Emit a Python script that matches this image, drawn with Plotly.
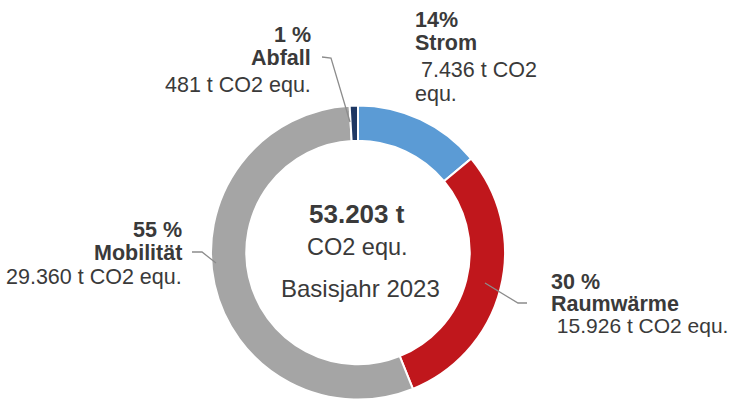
import plotly.graph_objects as go

# ---- data ----
categories = ["Strom", "Raumwärme", "Mobilität", "Abfall"]
values = [7436, 15926, 29360, 481]
pct_labels = ["14%", "30 %", "55 %", "1 %"]
value_lines = [["\u00a07.436 t CO2", "equ."], ["\u00a015.926 t CO2 equ."],
               ["29.360 t CO2 equ."], ["481 t CO2 equ."]]
colors = ["#5B9BD5", "#C0171C", "#A5A5A5", "#1F3864"]
total_label = "53.203 t"
unit_label = "CO2 equ."
year_label = "Basisjahr 2023"

W, H = 730, 403
FONT = "Liberation Sans, Arial, sans-serif"
TXT = "#3a3a3a"


def px(x):
    return x / W


def py(y):
    return 1 - y / H


fig = go.Figure(go.Pie(
    labels=categories,
    values=values,
    sort=False,
    direction="clockwise",
    rotation=0,
    hole=0.76,
    marker=dict(colors=colors, line=dict(color="white", width=2)),
    textinfo="none",
    hoverinfo="label+value+percent",
    showlegend=False,
    domain=dict(x=[px(211), px(505)], y=[py(400), py(105)]),
))

annotations = []


def add(text, x, y, size, anchor="center"):
    annotations.append(dict(text=text, x=px(x), y=py(y), xref="paper", yref="paper",
                            xanchor=anchor, yanchor="middle", showarrow=False,
                            font=dict(size=size, color=TXT, family=FONT)))


# center text
add("<b>" + total_label + "</b>", 357, 214, 26)
add(unit_label, 357, 246.5, 23.5)
add(year_label, 360, 288.5, 24)

# slice labels: x edge, anchor, y centers of lines
label_layout = {
    "Strom": (413, "left", [20, 43.5, 69.5, 94]),
    "Raumwärme": (549, "left", [281.5, 304, 325.5]),
    "Mobilität": (184, "right", [229.5, 252.5, 277]),
    "Abfall": (313, "right", [35, 58, 85]),
}
for i, cat in enumerate(categories):
    x, anchor, ys = label_layout[cat]
    lines = ["<b>" + pct_labels[i] + "</b>", "<b>" + cat + "</b>"] + value_lines[i]
    for j, (ln, y) in enumerate(zip(lines, ys)):
        size = 21.5
        if cat == "Raumwärme" and j == 2:
            size = 21
        add(ln, x, y, size, anchor)

# leader lines
leaders = [
    [(322, 57), (331, 58), (350, 122)],   # Abfall
    [(192, 252), (202, 252), (216, 263)],  # Mobilität
    [(485, 283), (518, 303), (527, 303)],  # Raumwärme
]
shapes = []
for pts in leaders:
    path = "M " + " L ".join(f"{px(x):.5f},{py(y):.5f}" for x, y in pts)
    shapes.append(dict(type="path", path=path, xref="paper", yref="paper",
                       line=dict(color="#8c8c8c", width=1.3)))

fig.update_layout(
    width=W, height=H,
    margin=dict(l=0, r=0, t=0, b=0),
    paper_bgcolor="white", plot_bgcolor="white",
    annotations=annotations, shapes=shapes,
)

fig.write_html("out.html", config={"displayModeBar": False},
               post_script="document.body.style.margin='0px';")
